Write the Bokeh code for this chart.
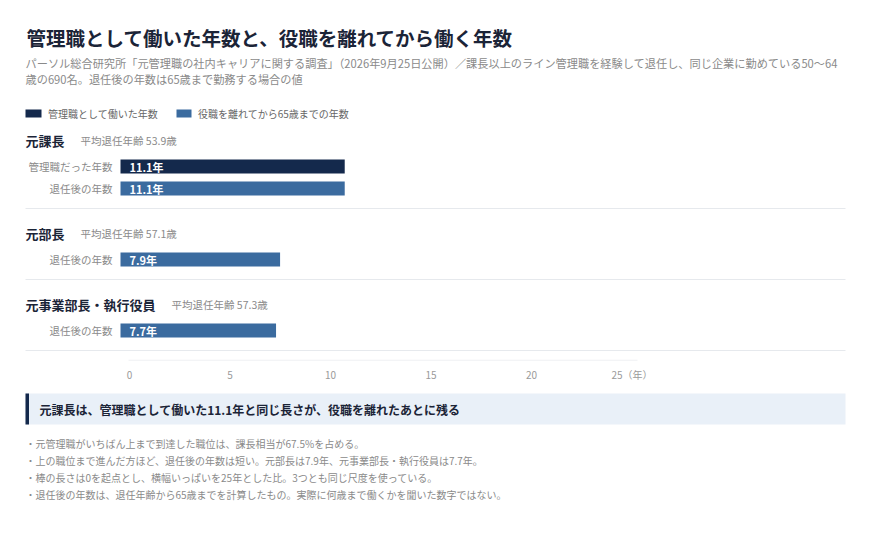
from bokeh.plotting import figure
from bokeh.models import ColumnDataSource, Range1d, FixedTicker
from bokeh.layouts import column
from bokeh.core.properties import value
from bokeh.embed import file_html
from bokeh.resources import INLINE

FONT = "Noto Sans CJK JP"

# ---------------- data ----------------
title = "管理職として働いた年数と、役職を離れてから働く年数"
subtitle = [
    "パーソル総合研究所「元管理職の社内キャリアに関する調査」（2026年9月25日公開）／課長以上のライン管理職を経験して退任し、同じ企業に勤めている50〜64",
    "歳の690名。退任後の年数は65歳まで勤務する場合の値",
]
legend_labels = ["管理職として働いた年数", "役職を離れてから65歳までの年数"]
groups = ["元課長", "元部長", "元事業部長・執行役員"]
avg_age = [53.9, 57.1, 57.3]
mgr_years = [11.1, None, None]      # 管理職だった年数
after_years = [11.1, 7.9, 7.7]      # 退任後の年数
row_labels = ["管理職だった年数", "退任後の年数"]
ticks = [0, 5, 10, 15, 20, 25]
tick_labels = ["0", "5", "10", "15", "20", "25（年）"]
callout = "元課長は、管理職として働いた11.1年と同じ長さが、役職を離れたあとに残る"
notes = [
    "・元管理職がいちばん上まで到達した職位は、課長相当が67.5%を占める。",
    "・上の職位まで進んだ方ほど、退任後の年数は短い。元部長は7.9年、元事業部長・執行役員は7.7年。",
    "・棒の長さは0を起点とし、横幅いっぱいを25年とした比。3つとも同じ尺度を使っている。",
    "・退任後の年数は、退任年齢から65歳までを計算したもの。実際に何歳まで働くかを聞いた数字ではない。",
]

# ---------------- style ----------------
DARK = "#14294c"
BLUE = "#3b6b9f"
TITLE_C = "#1b2437"
GRAY = "#8a8a8a"
SEP_C = "#e6e9ed"

W = 854
X0 = 120.0      # page x of value 0 for bars
SCALE = 20.2    # px per year


def X(px):
    return (px - X0) / SCALE


def txt(p, xs, ys, texts, size, color, bold=False, align="left"):
    src = ColumnDataSource(dict(x=xs, y=ys, t=texts))
    p.text(x="x", y="y", text="t", source=src, text_font=value(FONT),
           text_font_size=size, text_color=color,
           text_font_style="bold" if bold else "normal",
           text_align=align, text_baseline="middle")


def base_fig(h, xr, yr, **kw):
    f = figure(width=W, height=h, x_range=xr, y_range=yr,
               output_backend="svg", toolbar_location=None,
               x_axis_location=None, y_axis_location=None,
               min_border=0, outline_line_color=None, **kw)
    f.xgrid.grid_line_color = None
    f.ygrid.grid_line_color = None
    return f


# ---------------- figure 1: header + bars ----------------
TOP1, BOT1 = 0, 358
p = base_fig(BOT1 - TOP1, Range1d(X(0), X(W)), Range1d(BOT1, TOP1))

txt(p, [X(26)], [37], [title], "19.5px", TITLE_C, bold=True)
txt(p, [X(25)] * 2, [62, 78], subtitle, "11.2px", GRAY)

# legend
ly = 113
p.quad(left=[X(25), X(176)], right=[X(41), X(191)], bottom=[ly + 4, ly + 4],
       top=[ly - 4, ly - 4], fill_color=[DARK, BLUE], line_color=None)
txt(p, [X(47.5), X(197.5)], [ly, ly], legend_labels, "10px", "#666666")

# groups
y = 140
bar_h = 14
sep_ys = []
for gi, g in enumerate(groups):
    txt(p, [X(25)], [y], [g], "13px", TITLE_C, bold=True)
    txt(p, [X(25 + len(g) * 13 + 16)], [y], ["平均退任年齢 %.1f歳" % avg_age[gi]], "10.5px", GRAY)
    rows = []
    if mgr_years[gi] is not None:
        rows.append((row_labels[0], mgr_years[gi], DARK))
    rows.append((row_labels[1], after_years[gi], BLUE))
    by = y + 26
    for lab, v, c in rows:
        p.hbar(y=[by], left=[0], right=[v], height=bar_h, fill_color=c, line_color=None)
        txt(p, [X(112)], [by], [lab], "10.5px", GRAY, align="right")
        txt(p, [X(129)], [by], ["%.1f年" % v], "11px", "white", bold=True)
        last = by
        by += 22
    sep = last + 20
    sep_ys.append(sep)
    y = sep + 25

p.segment(x0=[X(25)] * len(sep_ys), x1=[X(845)] * len(sep_ys), y0=sep_ys, y1=sep_ys,
          line_color=SEP_C, line_width=1)

# ---------------- figure 2: axis ----------------
A0 = 129.0      # page x of tick 0
ASC = 20.1
a = figure(width=W, height=26, output_backend="svg", toolbar_location=None,
           x_range=Range1d((0 - A0) / ASC, (W - A0) / ASC),
           y_range=Range1d(0, 7), x_axis_location="below", y_axis_location=None,
           min_border_left=0, min_border_right=0,
           min_border_top=0, min_border_bottom=19, outline_line_color=None)
a.xgrid.grid_line_color = None
a.ygrid.grid_line_color = None
a.segment(x0=[(128 - A0) / ASC], x1=[(637 - A0) / ASC], y0=[0.5], y1=[0.5],
          line_color="#e3e6ea", line_width=1)
ax = a.xaxis[0]
ax.ticker = FixedTicker(ticks=ticks)
ax.major_label_overrides = {t: l for t, l in zip(ticks, tick_labels)}
ax.major_tick_out = 0
ax.major_tick_in = 0
ax.minor_tick_out = 0
ax.minor_tick_in = 0
ax.major_label_standoff = 6
ax.axis_line_color = None
ax.major_label_text_color = "#9a9a9a"
ax.major_label_text_font = FONT
ax.major_label_text_font_size = "10px"

# ---------------- figure 3: callout + notes ----------------
TOP3 = 384
BOT3 = 543
n = base_fig(BOT3 - TOP3, Range1d(0, W), Range1d(BOT3, TOP3))
n.quad(left=[25], right=[845], top=[393], bottom=[424], fill_color="#e9f0f8", line_color=None)
n.quad(left=[25], right=[28.5], top=[393], bottom=[424], fill_color=DARK, line_color=None)
txt(n, [39], [408.5], [callout], "12px", TITLE_C, bold=True)
txt(n, [25] * len(notes), [443 + 17 * i for i in range(len(notes))], notes, "10px", GRAY)

layout = column(p, a, n, spacing=0)
open("out.html", "w").write(file_html(layout, INLINE))
